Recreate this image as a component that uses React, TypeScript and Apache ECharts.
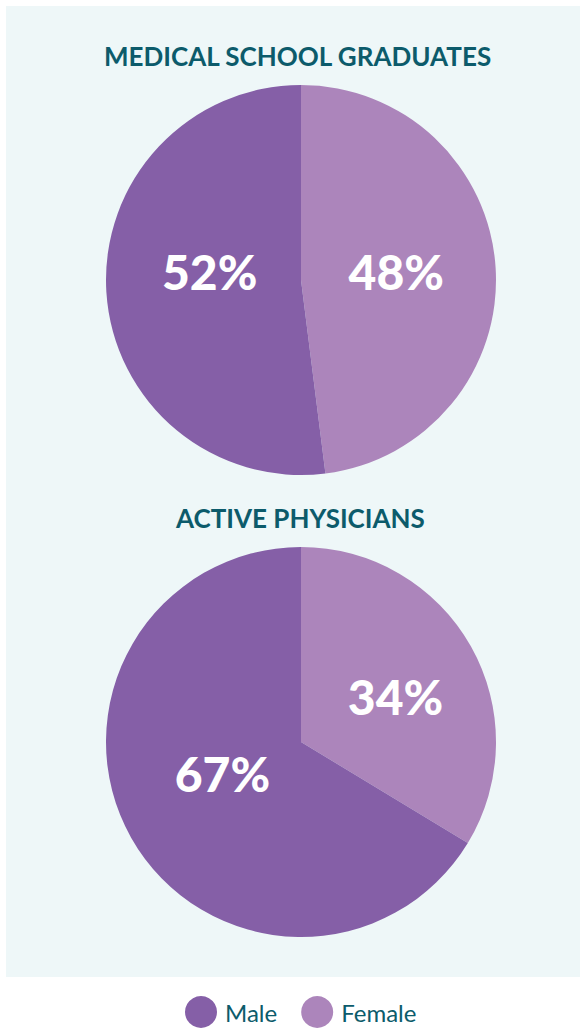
import React, { useEffect, useRef } from "react";
import * as echarts from "echarts";

const categories = ["Female", "Male"];
const graduatesValues = [48, 52];
const physiciansValues = [34, 67];
const chartTitles = ["MEDICAL SCHOOL GRADUATES", "ACTIVE PHYSICIANS"];
const colors = ["#ac85bb", "#855fa7"];
const legendOrder = ["Male", "Female"];

export default function App() {
  const ref = useRef<HTMLDivElement>(null);
  useEffect(() => {
    if (!ref.current) return;
    const chart = echarts.init(ref.current, null, { renderer: "svg" });
    const labelStyle = {
      show: true,
      position: "inside",
      formatter: (p: any) => p.value + "%",
      color: "#ffffff",
      fontSize: 48,
      fontWeight: 900,
      fontFamily: "Lato",
    };
    const mkSeries = (vals: number[], cy: number, offsets: number[][]) => ({
      type: "pie",
      radius: [0, 195],
      center: [301, cy],
      startAngle: 90,
      clockwise: true,
      label: labelStyle,
      labelLine: { show: false },
      emphasis: { disabled: true },
      itemStyle: { borderWidth: 0 },
      data: categories.map((c, i) => ({
        name: c,
        value: vals[i],
        itemStyle: { color: colors[i] },
        label: { offset: offsets[i] },
      })),
    });
    const titleStyle = { color: "#0c5b6b", fontSize: 26, fontWeight: 700, fontFamily: "Lato" };
    chart.setOption({
      animation: false,
      graphic: [
        {
          type: "rect",
          shape: { x: 6, y: 6, width: 580, height: 971 },
          style: { fill: "#eef7f8" },
          z: -10,
        },
      ],
      title: [
        { text: chartTitles[0], left: 99, top: 38, padding: 5, textStyle: titleStyle },
        { text: chartTitles[1], left: 171, top: 500, padding: 5, textStyle: titleStyle },
      ],
      legend: {
        data: legendOrder,
        top: 996,
        left: 185,
        icon: "circle",
        itemWidth: 32,
        itemHeight: 32,
        itemGap: 24,
        padding: 0,
        textStyle: { color: "#0c5b6b", fontSize: 24, fontFamily: "Lato", padding: [0, 0, 0, 3], lineHeight: 26 },
      },
      series: [
        mkSeries(graduatesValues, 280, [[-5, -2], [9, -15]]),
        mkSeries(physiciansValues, 742, [[7, 4], [9, -18]]),
      ],
    });
    return () => chart.dispose();
  }, []);
  return (
    <div
      ref={ref}
      style={{ position: "fixed", left: 0, top: 0, width: 580, height: 1028, background: "#ffffff" }}
    />
  );
}
